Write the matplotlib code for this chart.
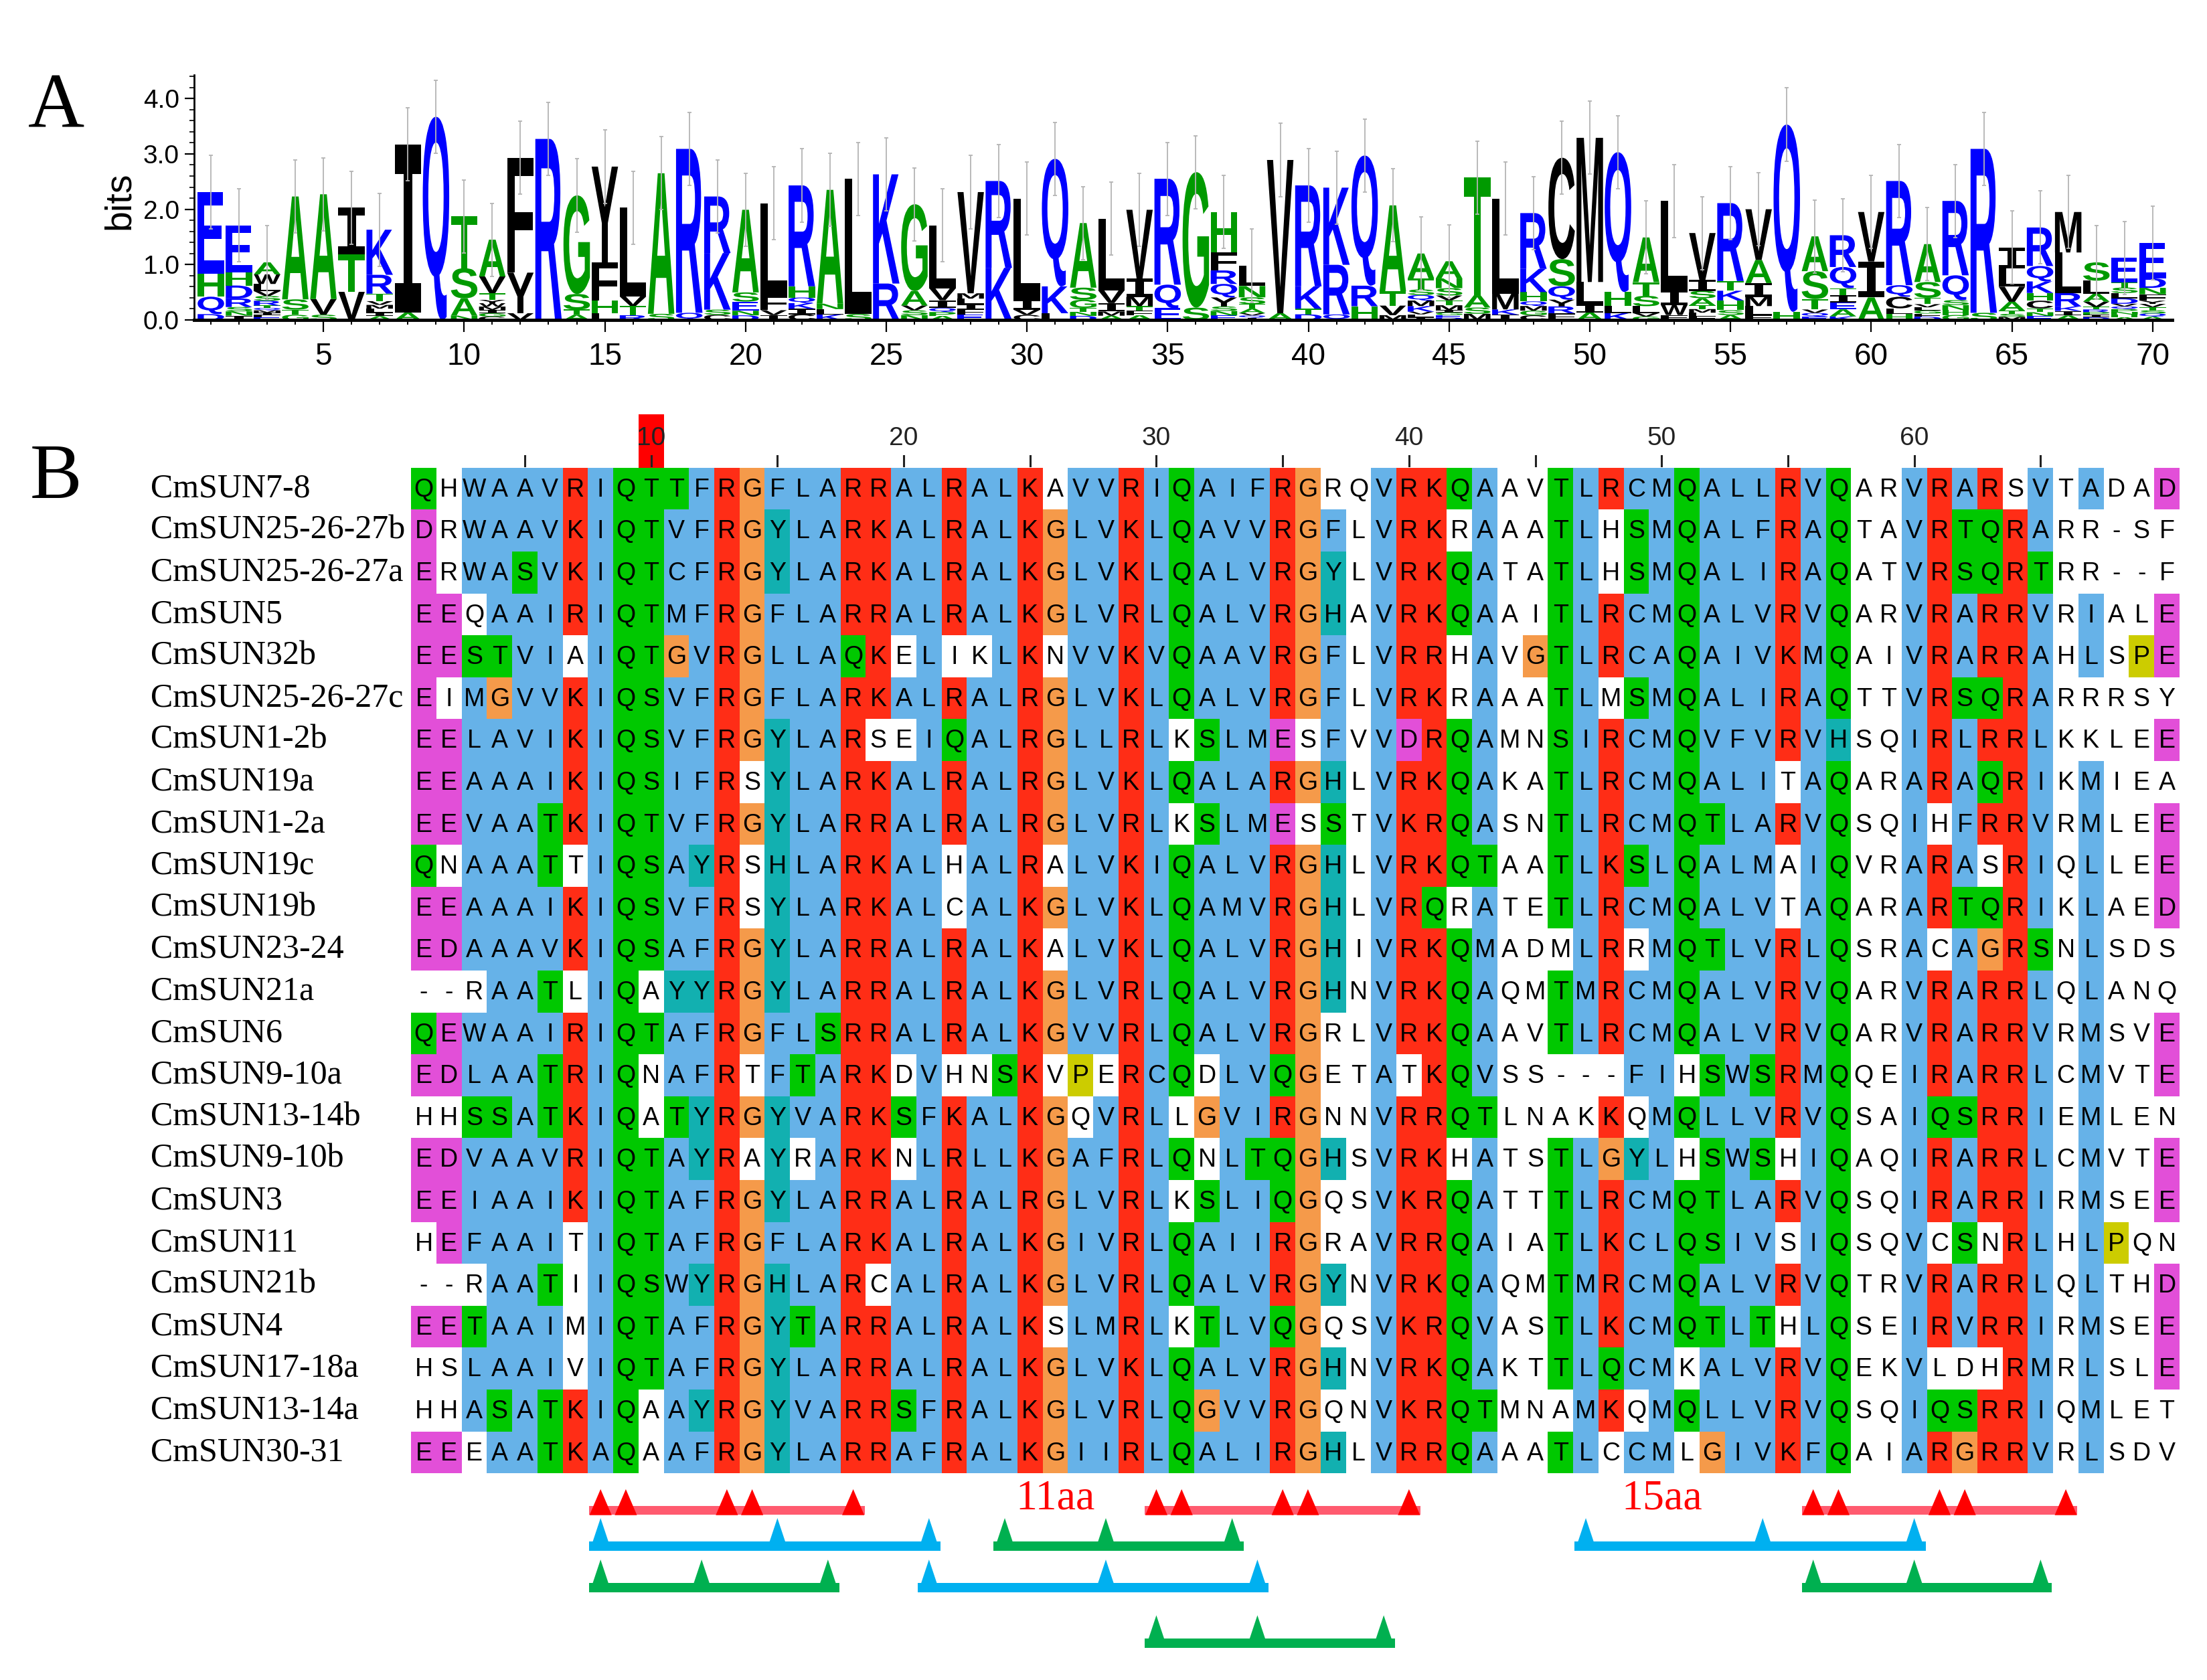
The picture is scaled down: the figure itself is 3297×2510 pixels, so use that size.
"""Sequence logo (A) and ClustalX-coloured alignment (B) of the CmSUN IQ67 domain."""

import matplotlib

matplotlib.use("Agg")
import matplotlib.pyplot as plt
from matplotlib import font_manager
from matplotlib.font_manager import FontProperties
from matplotlib.patches import PathPatch, Polygon, Rectangle
from matplotlib.textpath import TextPath
from matplotlib.ticker import FixedLocator, MultipleLocator
from matplotlib.transforms import Affine2D


NAMES = [
    "CmSUN7-8", "CmSUN25-26-27b", "CmSUN25-26-27a", "CmSUN5", "CmSUN32b",
    "CmSUN25-26-27c", "CmSUN1-2b", "CmSUN19a", "CmSUN1-2a", "CmSUN19c",
    "CmSUN19b", "CmSUN23-24", "CmSUN21a", "CmSUN6", "CmSUN9-10a",
    "CmSUN13-14b", "CmSUN9-10b", "CmSUN3", "CmSUN11", "CmSUN21b",
    "CmSUN4", "CmSUN17-18a", "CmSUN13-14a", "CmSUN30-31",
]

SEQUENCES = [
    "QHWAAVRIQTTFRGFLARRALRALKAVVRIQAIFRGRQVRKQAAVTLRCMQALLRVQARVRARSVTADAD",
    "DRWAAVKIQTVFRGYLARKALRALKGLVKLQAVVRGFLVRKRAAATLHSMQALFRAQTAVRTQRARR-SF",
    "ERWASVKIQTCFRGYLARKALRALKGLVKLQALVRGYLVRKQATATLHSMQALIRAQATVRSQRTRR--F",
    "EEQAAIRIQTMFRGFLARRALRALKGLVRLQALVRGHAVRKQAAITLRCMQALVRVQARVRARRVRIALE",
    "EESTVIAIQTGVRGLLAQKELIKLKNVVKVQAAVRGFLVRRHAVGTLRCAQAIVKMQAIVRARRAHLSPE",
    "EIMGVVKIQSVFRGFLARKALRALRGLVKLQALVRGFLVRKRAAATLMSMQALIRAQTTVRSQRARRRSY",
    "EELAVIKIQSVFRGYLARSEIQALRGLLRLKSLMESFVVDRQAMNSIRCMQVFVRVHSQIRLRRLKKLEE",
    "EEAAAIKIQSIFRSYLARKALRALRGLVKLQALARGHLVRKQAKATLRCMQALITAQARARAQRIKMIEA",
    "EEVAATKIQTVFRGYLARRALRALRGLVRLKSLMESSTVKRQASNTLRCMQTLARVQSQIHFRRVRMLEE",
    "QNAAATTIQSAYRSHLARKALHALRALVKIQALVRGHLVRKQTAATLKSLQALMAIQVRARASRIQLLEE",
    "EEAAAIKIQSVFRSYLARKALCALKGLVKLQAMVRGHLVRQRATETLRCMQALVTAQARARTQRIKLAED",
    "EDAAAVKIQSAFRGYLARRALRALKALVKLQALVRGHIVRKQMADMLRRMQTLVRLQSRACAGRSNLSDS",
    "--RAATLIQAYYRGYLARRALRALKGLVRLQALVRGHNVRKQAQMTMRCMQALVRVQARVRARRLQLANQ",
    "QEWAAIRIQTAFRGFLSRRALRALKGVVRLQALVRGRLVRKQAAVTLRCMQALVRVQARVRARRVRMSVE",
    "EDLAATRIQNAFRTFTARKDVHNSKVPERCQDLVQGETATKQVSS---FIHSWSRMQQEIRARRLCMVTE",
    "HHSSATKIQATYRGYVARKSFKALKGQVRLLGVIRGNNVRRQTLNAKKQMQLLVRVQSAIQSRRIEMLEN",
    "EDVAAVRIQTAYRAYRARKNLRLLKGAFRLQNLTQGHSVRKHATSTLGYLHSWSHIQAQIRARRLCMVTE",
    "EEIAAIKIQTAFRGYLARRALRALRGLVRLKSLIQGQSVKRQATTTLRCMQTLARVQSQIRARRIRMSEE",
    "HEFAAITIQTAFRGFLARKALRALKGIVRLQAIIRGRAVRRQAIATLKCLQSIVSIQSQVCSNRLHLPQN",
    "--RAATIIQSWYRGHLARCALRALKGLVRLQALVRGYNVRKQAQMTMRCMQALVRVQTRVRARRLQLTHD",
    "EETAAIMIQTAFRGYTARRALRALKSLMRLKTLVQGQSVKRQVASTLKCMQTLTHLQSEIRVRRIRMSEE",
    "HSLAAIVIQTAFRGYLARRALRALKGLVKLQALVRGHNVRKQAKTTLQCMKALVRVQEKVLDHRMRLSLE",
    "HHASATKIQAAYRGYVARRSFRALKGLVRLQGVVRGQNVKRQTMNAMKQMQLLVRVQSQIQSRRIQMLET",
    "EEEAATKAQAAFRGYLARRAFRALKGIIRLQALIRGHLVRRQAAATLCCMLGIVKFQAIARGRRVRLSDV",
]

# total stack height (bits) of each logo position
LOGO_HEIGHTS = [
    2.31, 1.71, 1.04, 2.23, 2.27, 2.03, 1.63, 3.17, 3.67, 1.87,
    1.45, 2.93, 3.27, 2.25, 2.77, 2.03, 2.65, 3.09, 2.23, 1.99,
    2.11, 2.43, 2.35, 2.55, 2.63, 2.09, 1.71, 2.31, 2.51, 2.19,
    2.91, 1.75, 1.83, 1.99, 2.55, 2.67, 1.95, 0.98, 2.89, 2.43,
    2.39, 2.97, 2.07, 1.20, 1.06, 2.57, 2.19, 1.93, 2.93, 3.29,
    3.03, 1.49, 2.15, 1.57, 2.11, 2.00, 3.53, 1.51, 1.53, 1.95,
    2.51, 1.37, 2.15, 3.09, 1.31, 1.67, 1.95, 1.04, 1.12, 1.39,
]
LOGO_ERROR = 0.66

RULER_LABELS = [10, 20, 30, 40, 50, 60]
RULER_TICKS = list(range(5, 70, 5))
SELECTED_COLUMN = 10

MOTIF_SITES = [[8, 9, 13, 14, 18], [30, 31, 35, 36, 40], [56, 57, 61, 62, 66]]
SPACER_LABELS = ["11aa", "15aa"]
BLUE_SPANS = [(0, [8, 15, 21]), (0, [47, 54, 60]), (1, [21, 28, 34])]
GREEN_SPANS = [(0, [24, 28, 33]), (1, [8, 12, 17]), (1, [56, 60, 65]), (2, [30, 34, 39])]

CLUSTAL = {
    "blue": "#66b2e8",
    "red": "#ff2d16",
    "green": "#00c800",
    "orange": "#f59a4a",
    "cyan": "#12b0b0",
    "magenta": "#e24fd8",
    "yellow": "#cccc00",
    "pink": "#f08080",
}
HYDROPHOBIC = "WLVIMAFCYHP"
AMINO = "ACDEFGHIKLMNPQRSTVWY"

LOGO_BLUE = "DEKRQ"
LOGO_GREEN = "AGSTHNP"

# pixel geometry of the 3298 x 2510 canvas
W_PX, H_PX = 3298, 2510
COL1_PX, COL_PX = 633.0, 37.74
ROW1_PX, ROW_PX = 730.0, 62.6
LOGO_LEFT, LOGO_RIGHT, LOGO_ZERO, LOGO_TOP = 290, 3245, 478, 112
POS1_PX, POS_PX, BIT_PX = 315.0, 42.04, 82.7


def _pct(column, group):
    return 100.0 * sum(res in group for res in column) / len(column)


def clustal_colour(column, res):
    """Jalview / ClustalX colouring rule for one residue in its column."""
    if res == "G":
        return "orange"
    if res == "P":
        return "yellow"
    single = {aa for aa in AMINO if _pct(column, aa) > 85}
    hydro = _pct(column, HYDROPHOBIC) > 60
    kr = _pct(column, "KR") > 60
    qe = _pct(column, "QE") > 50
    ed = _pct(column, "ED") > 50
    ts = _pct(column, "TS") > 50
    if res == "C" and "C" in single:
        return "pink"
    if res in "WLVIMAFC":
        ok = hydro or single & set("ACFHILMVWYP") or _pct(column, "P") > 50
        return "blue" if ok else None
    if res in "HY":
        return "cyan" if hydro or single & set("WYACPQFHILMV") else None
    if res in "KR":
        return "red" if kr or single & set("KRQ") else None
    if res == "E":
        return "magenta" if kr or qe or ed or single & set("DEQ") else None
    if res == "D":
        ok = kr or ed or single & set("KRQDEN") or _pct(column, "N") > 50
        return "magenta" if ok else None
    if res == "N":
        return "green" if _pct(column, "N") > 50 or single & set("ND") else None
    if res == "Q":
        return "green" if kr or qe or single & set("QEKR") else None
    if res in "ST":
        return "green" if hydro or ts or single & set("ST") else None
    return None


def draw_glyph(ax, letter, x, y, width, height, color, prop):
    path = TextPath((0, 0), letter, size=1, prop=prop)
    box = path.get_extents()
    transform = (
        Affine2D()
        .translate(-box.x0, -box.y0)
        .scale(width / box.width, height / box.height)
        .translate(x - width / 2, y)
    )
    ax.add_patch(
        PathPatch(transform.transform_path(path), facecolor=color,
                  edgecolor="none", linewidth=0, zorder=2)
    )


def draw_logo(fig):
    left = LOGO_LEFT / W_PX
    width = (LOGO_RIGHT - LOGO_LEFT) / W_PX
    bottom = (H_PX - LOGO_ZERO) / H_PX
    height = (LOGO_ZERO - LOGO_TOP) / H_PX
    ax = fig.add_axes([left, bottom, width, height], facecolor="none")
    ax.set_xlim(1 - (POS1_PX - LOGO_LEFT) / POS_PX,
                1 + (LOGO_RIGHT - POS1_PX) / POS_PX)
    ax.set_ylim(0, (LOGO_ZERO - LOGO_TOP) / BIT_PX)

    sans = FontProperties(family="Liberation Sans", weight="bold")
    mono = FontProperties(family="DejaVu Sans Mono", weight="bold")
    positions = range(1, len(LOGO_HEIGHTS) + 1)
    for pos, total in zip(positions, LOGO_HEIGHTS):
        column = [seq[pos - 1] for seq in SEQUENCES if seq[pos - 1] != "-"]
        counts = {aa: column.count(aa) for aa in set(column)}
        stack = sorted(counts.items(), key=lambda item: (item[1], item[0]))
        base = 0.0
        for aa, count in stack:
            h = total * count / len(column)
            if aa in LOGO_BLUE:
                color = "#0000ff"
            elif aa in LOGO_GREEN:
                color = "#009a00"
            else:
                color = "black"
            draw_glyph(ax, aa, pos, base, 0.94, h, color,
                       mono if aa == "I" else sans)
            base += h

    ax.errorbar(list(positions), LOGO_HEIGHTS, yerr=LOGO_ERROR, fmt="none",
                ecolor="#b4b4b4", elinewidth=1.3, capsize=2.5, capthick=1.3,
                zorder=3)

    for side in ("top", "right"):
        ax.spines[side].set_visible(False)
    ax.spines["left"].set_linewidth(2.0)
    ax.spines["bottom"].set_linewidth(3.5)

    names = {f.name for f in font_manager.fontManager.ttflist}
    narrow = "Liberation Sans Narrow" if "Liberation Sans Narrow" in names else "Liberation Sans"

    ax.xaxis.set_major_locator(FixedLocator(list(range(5, 71, 5))))
    ax.xaxis.set_minor_locator(FixedLocator(list(positions)))
    ax.yaxis.set_major_locator(FixedLocator([0, 1, 2, 3, 4]))
    ax.yaxis.set_minor_locator(MultipleLocator(0.2))
    ax.set_yticklabels(["0.0", "1.0", "2.0", "3.0", "4.0"])
    ax.tick_params(axis="x", which="major", length=13, width=1.6, pad=11,
                   labelsize=33)
    ax.tick_params(axis="x", which="minor", length=5, width=1.4)
    ax.tick_params(axis="y", which="major", length=10, width=1.6, pad=6,
                   labelsize=28)
    ax.tick_params(axis="y", which="minor", length=5, width=1.2)
    for label in ax.get_xticklabels() + ax.get_yticklabels():
        label.set_family(narrow)

    ax.set_ylabel("bits", fontsize=40, family="Liberation Sans")
    ax.yaxis.set_label_coords((205 - LOGO_LEFT) / (LOGO_RIGHT - LOGO_LEFT),
                              (LOGO_ZERO - 300) / (LOGO_ZERO - LOGO_TOP))
    return ax


def draw_alignment(fig):
    ax = fig.add_axes([0, 0, 1, 1], facecolor="none")
    ax.set_xlim(1 - COL1_PX / COL_PX, 1 + (W_PX - COL1_PX) / COL_PX)
    ax.set_ylim((H_PX - ROW1_PX) / ROW_PX, -ROW1_PX / ROW_PX)
    ax.axis("off")

    n_cols = len(SEQUENCES[0])
    columns = ["".join(seq[j] for seq in SEQUENCES) for j in range(n_cols)]

    # ruler with the selected column drawn in red
    ax.add_patch(Rectangle((SELECTED_COLUMN - 0.5, -1.773), 1, 1.273,
                           facecolor="#ff0000", edgecolor="none"))
    for col in RULER_TICKS:
        ax.plot([col, col], [-0.78, -0.54], color="#222222", lw=2.2)
    for col in RULER_LABELS:
        ax.text(col, -1.2, str(col), ha="center", va="center", fontsize=28,
                family="Liberation Sans", color="#222222")

    for row, (name, seq) in enumerate(zip(NAMES, SEQUENCES)):
        ax.text(-9.81, row, name, ha="left", va="center", fontsize=36,
                family="Liberation Serif")
        for j, res in enumerate(seq):
            col = j + 1
            colour = None if res == "-" else clustal_colour(columns[j], res)
            if colour is not None:
                ax.add_patch(Rectangle((col - 0.5, row - 0.5), 1, 1,
                                       facecolor=CLUSTAL[colour],
                                       edgecolor="none"))
            ax.text(col, row + 0.03, res, ha="center", va="center",
                    fontsize=27, family="Liberation Sans", color="black")

    # IQ motif sites
    for sites in MOTIF_SITES:
        ax.add_patch(Rectangle((sites[0] - 0.45, 24.39 - 0.104),
                               sites[-1] - sites[0] + 0.9, 0.208,
                               facecolor="#ff5b6f", edgecolor="none"))
        for col in sites:
            ax.add_patch(Polygon([(col - 0.44, 24.5), (col + 0.44, 24.5),
                                  (col, 23.88)], closed=True,
                                 facecolor="#ff0000", edgecolor="none"))
    for label, left, right in zip(SPACER_LABELS, MOTIF_SITES[:-1], MOTIF_SITES[1:]):
        mid = (left[-1] + right[0]) / 2 + 2
        ax.text(mid, 24.12, label, ha="center", va="center", fontsize=46,
                family="Liberation Serif", color="#ff0000")

    levels = [25.24, 26.23, 27.56]
    for colour, spans in (("#00b0f0", BLUE_SPANS), ("#00b050", GREEN_SPANS)):
        for level, sites in spans:
            y = levels[level]
            ax.add_patch(Rectangle((sites[0] - 0.45, y - 0.112),
                                   sites[-1] - sites[0] + 0.9, 0.224,
                                   facecolor=colour, edgecolor="none"))
            for col in sites:
                ax.add_patch(Polygon([(col - 0.37, y), (col + 0.37, y),
                                      (col, y - 0.67)], closed=True,
                                     facecolor=colour, edgecolor="none"))
    return ax


def main():
    fig = plt.figure(figsize=(W_PX / 100, H_PX / 100), dpi=100)
    draw_alignment(fig)
    draw_logo(fig)
    fig.text(84 / W_PX, 1 - 163 / H_PX, "A", ha="center", va="center",
             fontsize=84, family="Liberation Serif")
    fig.text(84 / W_PX, 1 - 716 / H_PX, "B", ha="center", va="center",
             fontsize=84, family="Liberation Serif")
    fig.savefig("out.png", dpi=100)
    plt.close(fig)


if __name__ == "__main__":
    main()
